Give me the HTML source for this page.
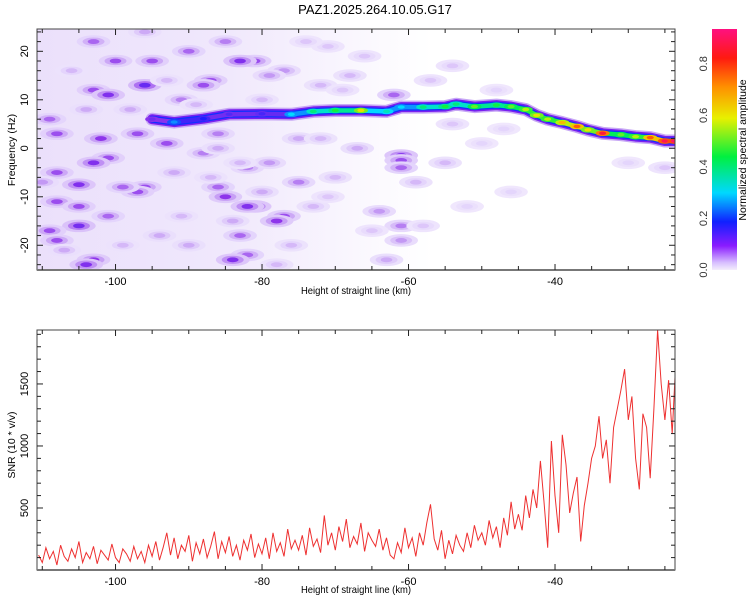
<!DOCTYPE html>
<html><head><meta charset="utf-8">
<style>
html,body{margin:0;padding:0;background:#fff;}
svg{display:block;font-family:"Liberation Sans",sans-serif;}
</style></head>
<body>
<svg id="chart" width="750" height="600" viewBox="0 0 750 600">
<defs>
<clipPath id="clipTop"><rect x="37" y="29" width="638" height="241"/></clipPath>
<clipPath id="clipBot"><rect x="37" y="330" width="638" height="240"/></clipPath>
<linearGradient id="haze" x1="0" y1="0" x2="1" y2="0">
<stop offset="0" stop-color="#ebe0fb"/><stop offset="0.3" stop-color="#f0e8fc"/><stop offset="0.5" stop-color="#faf7fe"/><stop offset="0.62" stop-color="#ffffff"/>
</linearGradient>
<linearGradient id="cbar" x1="0" y1="1" x2="0" y2="0">
<stop offset="0" stop-color="#f4eefc"/><stop offset="0.03" stop-color="#d8c0ff"/><stop offset="0.1" stop-color="#8a1cff"/><stop offset="0.2" stop-color="#1020ff"/><stop offset="0.32" stop-color="#00d8ff"/><stop offset="0.47" stop-color="#00f040"/><stop offset="0.63" stop-color="#e8f000"/><stop offset="0.76" stop-color="#ff9000"/><stop offset="0.88" stop-color="#ff1a10"/><stop offset="1" stop-color="#ff1080"/>
</linearGradient>
</defs>
<text x="375" y="14" text-anchor="middle" font-size="13">PAZ1.2025.264.10.05.G17</text>
<g id="topPanel"></g>
<g id="botPanel"></g>
<g id="cbPanel"></g>
</svg>
<script>
// ---- data ----
const ridgeH = [-95,-92,-88,-84.5,-80,-76,-73,-70,-66.5,-63,-61,-58,-55,-53.5,-51,-48,-46,-44,-42.5,-41,-39,-37,-35.5,-33.5,-31,-29,-27,-25,-23.7];
const ridgeF = [6,5.4,6.1,7,7.1,7,7.6,7.8,7.8,7.6,8.5,8.5,8.6,9.1,8.6,8.9,8.6,8,6.8,6,5.3,4.5,3.8,3.1,2.8,2.4,2.2,1.5,1.5];
const ridgeA = [.12,.25,.18,.14,.15,.3,.4,.45,.6,.35,.3,.4,.45,.4,.5,.45,.5,.55,.6,.55,.65,.75,.6,.85,.5,.55,.75,.88,.9];
const blobH = [-103,-100,-103,-101,-108,-102,-101,-103,-105,-108,-105,-105,-109,-108,-103,-104,-109,-108,-96,-97,-99,-96,-97,-95,-101,
 -90,-85,-87,-88,-81,-83,-93,-88,-82,-86,-85,-81,-82,-77,-78,-83,-82,-84,-86,-77,-91,-79,-79,-75,-75,
 -61,-61,-61,-62,-64,-61,-61,-63,-72,-67,-68,-72,-59,-54,-55,-54,-66,-71,-25,-30,-50,-48,-46,-47,
 -106,-98,-94,-92,-89,-84,-80,-76,-73,-70,-107,-99,-93,-90,-86,-80,-78,-74,-69,-65,-58,-52,-104,-96,-91,-87,-83,-71,-57,-110];
const blobF = [22,18,12,11,3,2,-2,-3,-7.5,-11,-12,-16,-17,-19,-23,-24,6,-5,-8,-9,-8,13,3,18,-14,
 20,22,14,13,18,18,1,-1,-4,-8,-10,-12,-12,-14,-15,-18,-22,-23,3,16,10,15,-3,-7,2,
 -1.5,-2.5,-4,11,-13,-16,-19,-23,2,0,15,13,-7,5,-3,17,19,21,-4,-3,1,12,-9,4,
 16,8,-18,-5,9,-15,-9,-20,-12,-6,-21,-20,14,-20,0,10,-24,22,12,-17,-16,-12,8,24,-14,-6,-3,-10,14,-7];
const blobA = [.09,.1,.1,.12,.1,.11,.1,.12,.12,.1,.1,.13,.1,.1,.11,.12,.09,.1,.1,.1,.09,.14,.1,.1,.09,
 .09,.08,.1,.1,.1,.12,.1,.08,.08,.09,.11,.12,.12,.1,.11,.09,.09,.12,.08,.07,.08,.07,.07,.08,.06,
 .12,.1,.09,.09,.07,.08,.07,.06,.05,.06,.05,.05,.05,.04,.05,.04,.04,.04,.04,.03,.03,.03,.03,.03,
 .05,.06,.06,.06,.05,.06,.06,.05,.05,.05,.06,.05,.05,.06,.06,.05,.05,.04,.04,.04,.04,.03,.06,.06,.05,.05,.05,.04,.04,.07];
const snrStart = -110.5, snrStep = 0.5;
const snrValues = [120,60,180,90,150,40,200,110,70,170,100,230,60,140,90,190,50,160,120,80,210,100,60,170,130,70,190,90,150,60,200,
 110,230,80,180,300,120,260,90,200,150,280,70,220,130,250,100,190,310,90,230,140,270,110,200,80,240,160,290,100,210,130,260,90,300,150,220,110,330,170,240,
 160,280,120,340,190,250,140,440,200,300,160,350,230,410,180,270,210,380,150,300,240,190,330,160,260,120,
 90,220,140,340,180,260,110,300,200,380,530,250,160,320,90,240,130,280,200,150,300,180,360,240,
 300,200,400,260,350,180,420,280,550,330,
 450,320,600,420,650,500,880,550,180,1040,
 600,300,1090,850,460,620,750,230,520,700,
 900,1000,1240,900,1050,700,1150,1300,1450,1620,
 1210,1400,900,650,1260,1150,740,1300,1935,1500,
 1210,1530,1100,1700];
const xTicks = [-100,-80,-60,-40];
const fTicks = [-20,-10,0,10,20];
const snrTicks = [500,1000,1500];
const cbTicks = [0.0,0.2,0.4,0.6,0.8];

// ---- scales ----
const X0=37, X1=675, H0=-110.72, H1=-23.62;
const xs = h => X0 + (h-H0)/(H1-H0)*(X1-X0);
const TY0=29, TY1=270, F0=-25.1, F1=24.6;
const fs = f => TY1 - (f-F0)/(F1-F0)*(TY1-TY0);
const BY0=330, BY1=570, S0=0, S1=1935;
const ss = v => BY1 - (v-S0)/(S1-S0)*(BY1-BY0);
const CY0=29, CY1=270, C1=0.935;
const cs = a => CY1 - a/C1*(CY1-CY0);

const NS="http://www.w3.org/2000/svg";
function mk(tag, attrs, parent){const e=document.createElementNS(NS,tag);for(const k in attrs)e.setAttribute(k,attrs[k]);parent.appendChild(e);return e;}
const stops=[[0,[246,240,253]],[0.025,[230,216,252]],[0.06,[200,160,245]],[0.1,[140,50,235]],[0.18,[30,30,255]],[0.3,[0,220,255]],[0.44,[0,240,70]],[0.58,[230,240,0]],[0.7,[255,150,0]],[0.8,[255,30,20]],[0.94,[255,16,128]]];
function col(a){
  if(a<=stops[0][0]) return 'rgb('+stops[0][1]+')';
  for(let i=1;i<stops.length;i++){ if(a<=stops[i][0]){const t=(a-stops[i-1][0])/(stops[i][0]-stops[i-1][0]);const c=stops[i-1][1].map((v,j)=>Math.round(v+(stops[i][1][j]-v)*t));return 'rgb('+c+')';}}
  return 'rgb('+stops[stops.length-1][1]+')';
}

// ---- top panel ----
const topG=document.getElementById('topPanel');
const tg=mk('g',{'clip-path':'url(#clipTop)'},topG);
const hz=mk('rect',{x:X0,y:TY0,width:X1-X0,height:TY1-TY0,fill:'url(#haze)'},tg);


const pxkm=(X1-X0)/(H1-H0), pxhz=(TY1-TY0)/(F1-F0);
for(let i=0;i<blobH.length;i++){
  const cx=xs(blobH[i]), cy=fs(blobF[i]), a=blobA[i];
  const g=mk('g',{},tg);
  
  
  mk('ellipse',{cx:cx,cy:cy,rx:2.3*pxkm,ry:1.3*pxhz,fill:col(a*0.3)},g);
  mk('ellipse',{cx:cx,cy:cy,rx:1.5*pxkm,ry:0.85*pxhz,fill:col(a*0.55)},g);
  mk('ellipse',{cx:cx,cy:cy,rx:0.8*pxkm,ry:0.5*pxhz,fill:col(a*0.9)},g);
}
let d='';
for(let i=0;i<ridgeH.length;i++) d+=(i?'L':'M')+xs(ridgeH[i]).toFixed(1)+','+fs(ridgeF[i]).toFixed(1);
const r1=mk('path',{d:d,fill:'none',stroke:'#c8a8f5','stroke-width':13,'stroke-linejoin':'round','stroke-linecap':'round'},tg);


const r2=mk('path',{d:d,fill:'none',stroke:'#7a20f0','stroke-width':10,'stroke-linejoin':'round','stroke-linecap':'round'},tg);


const r3=mk('path',{d:d,fill:'none',stroke:'#1030ff','stroke-width':7,'stroke-linejoin':'round','stroke-linecap':'round'},tg);


for(let i=0;i<ridgeH.length-1;i++){
  const s=mk('line',{x1:xs(ridgeH[i]),y1:fs(ridgeF[i]),x2:xs(ridgeH[i+1]),y2:fs(ridgeF[i+1]),stroke:col(Math.min(ridgeA[i],ridgeA[i+1])*0.85),'stroke-width':4.5,'stroke-linecap':'round'},tg);
  
  
}
for(let i=0;i<ridgeH.length;i++){
  const cx=xs(ridgeH[i]), cy=fs(ridgeF[i]);
  const e=mk('ellipse',{cx:cx,cy:cy,rx:7,ry:2.8,fill:col(ridgeA[i]*0.85)},tg);
  
  
  mk('ellipse',{cx:cx,cy:cy,rx:3.5,ry:1.7,fill:col(ridgeA[i])},tg);
}

function frame(parent,y0,y1,name){
  const f=mk('rect',{x:X0,y:y0,width:X1-X0,height:y1-y0,fill:'none',stroke:'#444','stroke-width':1},parent);
  
  
  mk('line',{x1:X0,y1:y1,x2:X1,y2:y1,stroke:'#777','stroke-width':2},parent);
}
function xAxis(parent,y0,y1,titleY,name){
  for(let h=-110;h<=-24;h+=5){
    const x=xs(h), L=(h%20===0)?6:4;
    mk('line',{x1:x,y1:y1,x2:x,y2:y1-L,stroke:'#222'},parent);
    mk('line',{x1:x,y1:y0,x2:x,y2:y0+L,stroke:'#222'},parent);
  }
  xTicks.forEach(v=>{
    const t=mk('text',{x:xs(v),y:y1+15,'text-anchor':'middle','font-size':11},parent);
    t.textContent=v;
    
    
  });
  const t=mk('text',{x:0,y:0,'text-anchor':'middle','font-size':10.5,transform:'translate(356,'+titleY+') scale(0.9,1)'},parent);
  t.textContent='Height of straight line (km)';
  
  
}
frame(topG,TY0,TY1,'spectrogram-frame');
xAxis(topG,TY0,TY1,294,'x-axis-title-top');
for(let f=-24;f<=24;f+=2){
  const y=fs(f), L=(f%10===0)?6:4;
  mk('line',{x1:X0,y1:y,x2:X0+L,y2:y,stroke:'#222'},topG);
  mk('line',{x1:X1,y1:y,x2:X1-L,y2:y,stroke:'#222'},topG);
}
fTicks.forEach(v=>{
  const y=fs(v);
  const t=mk('text',{x:0,y:0,'text-anchor':'middle','font-size':11,transform:'translate(28,'+y+') rotate(-90)'},topG);
  t.textContent=v;
  
  
});
const yt=mk('text',{x:0,y:0,'text-anchor':'middle','font-size':10.5,transform:'translate(15,150) rotate(-90)'},topG);
yt.textContent='Frequency (Hz)';



// ---- bottom panel ----
const botG=document.getElementById('botPanel');
const bg=mk('g',{'clip-path':'url(#clipBot)'},botG);
let p='';
snrValues.forEach((v,i)=>{p+=(i?'L':'M')+xs(snrStart+i*snrStep).toFixed(1)+','+ss(v).toFixed(1);});
const line=mk('path',{d:p,fill:'none',stroke:'#ee3030','stroke-width':1,'stroke-linejoin':'miter'},bg);


frame(botG,BY0,BY1,'snr-frame');
xAxis(botG,BY0,BY1,593,'x-axis-title-bottom');
for(let v=100;v<=1900;v+=100){
  const y=ss(v), L=(v%500===0)?6:4;
  mk('line',{x1:X0,y1:y,x2:X0+L,y2:y,stroke:'#222'},botG);
  mk('line',{x1:X1,y1:y,x2:X1-L,y2:y,stroke:'#222'},botG);
}
snrTicks.forEach(v=>{
  const t=mk('text',{x:0,y:0,'text-anchor':'middle','font-size':11,transform:'translate(28,'+ss(v)+') rotate(-90)'},botG);
  t.textContent=v;
  
  
});
const st=mk('text',{x:0,y:0,'text-anchor':'middle','font-size':10.5,transform:'translate(15,445) rotate(-90)'},botG);
st.textContent='SNR (10 * v/v)';



// ---- colorbar ----
const cbG=document.getElementById('cbPanel');
const cr=mk('rect',{x:712,y:CY0,width:25,height:CY1-CY0,fill:'url(#cbar)'},cbG);


cbTicks.forEach(v=>{
  const t=mk('text',{x:0,y:0,'text-anchor':'middle','font-size':11,transform:'translate(707,'+cs(v)+') rotate(-90)',fill:'#333'},cbG);
  t.textContent=v.toFixed(1);
  
  
});
const ct=mk('text',{x:0,y:0,'text-anchor':'middle','font-size':10.5,transform:'translate(746,150) rotate(-90)'},cbG);
ct.textContent='Normalized spectral amplitude';


</script>
</body></html>
